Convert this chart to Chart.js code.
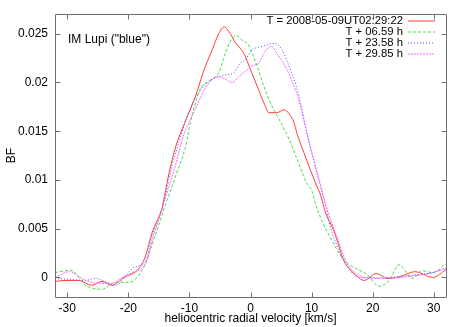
<!DOCTYPE html>
<html>
<head>
<meta charset="utf-8">
<script src="https://cdn.jsdelivr.net/npm/chart.js@4"></script>
<style>
  body { margin: 0; background: #fff; }
  #wrap { width: 467px; height: 327px; }
</style>
</head>
<body>
<div id="wrap"><canvas id="bf" width="467" height="327"></canvas></div>
<script>
// Broadening function of IM Lupi, four epochs
const seriesNames = ['T = 2008-05-09UT02:29:22', 'T + 06.59 h', 'T + 23.58 h', 'T + 29.85 h'];

const redV = [-32, -30.2, -28.1, -26, -24.3, -22.7, -20.7, -18.3, -17.3, -16, -15, -14.5, -13.4, -12.2, -11.2, -10.4, -9, -7.6, -6.3, -5.2, -4.3, -3.5, -2.4, -1.1, 0, 1.1, 2.2, 3, 4.3, 5.5, 6.3, 7.1, 7.6, 9.1, 10.7, 11.5, 12.2, 13.7, 15.3, 16.3, 17.3, 18.6, 20.6, 22.5, 24.5, 27, 29.8, 32];
const redBF = [-0.0004, -0.0003, -0.0003, -0.0008, -0.0004, -0.0008, 0.0, 0.0009, 0.002, 0.0048, 0.0062, 0.0071, 0.0105, 0.0135, 0.0152, 0.0164, 0.0186, 0.0213, 0.0233, 0.025, 0.0257, 0.0252, 0.024, 0.023, 0.0213, 0.0196, 0.0179, 0.0169, 0.0169, 0.0172, 0.0168, 0.0159, 0.0148, 0.0122, 0.0096, 0.0084, 0.0068, 0.0047, 0.0017, 0.0008, 0.0002, -0.0003, 0.0004, -0.0001, 0.0001, 0.0006, 0.0, 0.0008];

const greenV = [-32, -29.4, -27, -24.3, -22, -19.9, -17.5, -16.1, -15, -13.9, -12.2, -10.6, -9.8, -9, -8.2, -6.8, -5.2, -4.1, -3.2, -2.4, -1.1, -0.5, 0.9, 2.2, 3.5, 4.7, 6.3, 7.4, 9.1, 10.1, 10.7, 11.7, 13.4, 15, 17.3, 18.9, 21.1, 22.7, 24.3, 26.5, 28.1, 29.8, 32];
const greenBF = [0.0005, 0.00075, -0.0008, -0.0012, -0.0005, -0.0005, 0.001, 0.0034, 0.0054, 0.0075, 0.0105, 0.0135, 0.016, 0.0179, 0.0194, 0.0201, 0.021, 0.023, 0.0243, 0.0248, 0.0242, 0.024, 0.022, 0.0196, 0.0176, 0.0162, 0.0142, 0.0125, 0.0098, 0.0088, 0.0074, 0.0058, 0.0037, 0.002, 0.0009, 0.0004, -0.0009, -0.0003, 0.0013, -0.0001, 0.0007, 0.0005, 0.0014];

const blueV = [-32, -29.5, -27, -25.5, -23.5, -22, -20.4, -19.2, -18.3, -17.1, -16, -15, -14, -12.8, -11.7, -10.4, -9, -8.4, -7.1, -5.7, -4, -2.7, -1.9, -0.7, 0.2, 1.9, 3.9, 5.2, 6.3, 7.5, 8.5, 9.1, 10.7, 12.4, 12.9, 14.5, 16.1, 17.8, 19.9, 22.2, 24.3, 26, 29.8, 32];
const blueBF = [-0.0001, -0.0002, -0.0003, -0.0001, -0.0005, -0.0008, 0.0002, 0.001, 0.0012, 0.0018, 0.0045, 0.006, 0.0082, 0.0115, 0.0139, 0.0165, 0.0185, 0.019, 0.02, 0.0205, 0.0208, 0.021, 0.0218, 0.0225, 0.0233, 0.0237, 0.024, 0.0233, 0.0217, 0.0196, 0.017, 0.0152, 0.0111, 0.0071, 0.0056, 0.0027, 0.0009, 0.0, 0.0, -0.0001, 0.0001, 0.0002, 0.0005, 0.0009];

const pinkV = [-32, -29.6, -27.3, -24.8, -22.7, -21, -19.4, -17.1, -16, -15, -14, -12.5, -11, -10, -8.8, -7.6, -6.3, -5.2, -4, -3, -1.9, -1.1, 0.3, 1.4, 2.2, 3.4, 4.5, 5.8, 7.5, 7.9, 9.6, 11.2, 12.5, 14, 15.6, 17.8, 20.6, 22.7, 24.3, 27.1, 29.8, 32];
const pinkBF = [0.0, 0.0006, -0.0002, -0.0006, -0.0006, 0.0, 0.0005, 0.0015, 0.004, 0.006, 0.008, 0.011, 0.0145, 0.016, 0.0176, 0.0192, 0.0203, 0.0206, 0.0203, 0.02, 0.0206, 0.021, 0.0217, 0.022, 0.023, 0.0237, 0.0228, 0.0215, 0.019, 0.0182, 0.0139, 0.0101, 0.0071, 0.0044, 0.0017, 0.0002, -0.0001, 0.0, 0.0, 0.0002, 0.0005, 0.001];

const xTicks = [-30, -20, -10, 0, 10, 20, 30];
const yTicks = [0, 0.005, 0.01, 0.015, 0.02, 0.025];

const colors = ['#ff3b3b', '#44dd44', '#5050ff', '#ff66ff'];
const dashes = [[], [3, 2], [1, 2], [2, 1]];

const FONT = '"Liberation Sans", Arial, Helvetica, sans-serif';

function pts(vs, bs) {
  return vs.map((v, i) => ({ x: v, y: bs[i] }));
}

// gnuplot-like box with inward ticks, key and label
const gnuFrame = {
  id: 'gnuFrame',
  afterDraw(chart) {
    const { ctx, chartArea: a, scales: { x, y } } = chart;
    const L = Math.round(a.left) + 0.5, R = Math.round(a.right) + 0.5;
    const T = Math.round(a.top) + 0.5, B = Math.round(a.bottom) + 0.5;
    const tl = 5;
    ctx.save();
    ctx.strokeStyle = '#707070';
    ctx.lineWidth = 1;
    ctx.setLineDash([]);
    ctx.beginPath();
    ctx.rect(L, T, R - L, B - T);
    xTicks.forEach(v => {
      const px = Math.round(x.getPixelForValue(v)) + 0.5;
      ctx.moveTo(px, B); ctx.lineTo(px, B - tl);
      ctx.moveTo(px, T); ctx.lineTo(px, T + tl);
    });
    yTicks.forEach(v => {
      const py = Math.round(y.getPixelForValue(v)) + 0.5;
      ctx.moveTo(L, py); ctx.lineTo(L + tl, py);
      ctx.moveTo(R, py); ctx.lineTo(R - tl, py);
    });
    ctx.stroke();
    ctx.restore();

    // key text
    ctx.save();
    ctx.font = '11.3px ' + FONT;
    ctx.fillStyle = '#000';
    ctx.textBaseline = 'middle';
    ctx.textAlign = 'right';
    seriesNames.forEach((name, i) => ctx.fillText(name, 403, 20.5 + i * 11));
    ctx.textAlign = 'left';
    ctx.font = '12px ' + FONT;
    ctx.fillText('IM Lupi ("blue")', 68, 40);
    ctx.restore();

    // key samples
    seriesNames.forEach((name, i) => {
      const ly = 21 + i * 11;
      ctx.save();
      ctx.lineWidth = 1;
      ctx.strokeStyle = colors[i];
      ctx.setLineDash(dashes[i]);
      ctx.beginPath();
      ctx.moveTo(408, ly);
      ctx.lineTo(435, ly);
      ctx.stroke();
      ctx.restore();
    });
  }
};

const sets = [[redV, redBF], [greenV, greenBF], [blueV, blueBF], [pinkV, pinkBF]];

new Chart(document.getElementById('bf').getContext('2d'), {
  type: 'line',
  data: {
    datasets: sets.map((s, i) => ({
      label: seriesNames[i],
      data: pts(s[0], s[1]),
      borderColor: colors[i],
      borderWidth: 1,
      borderDash: dashes[i],
      pointRadius: 0,
      fill: false,
      cubicInterpolationMode: 'monotone'
    })).reverse()
  },
  options: {
    responsive: false,
    animation: false,
    events: [],
    layout: { padding: { top: 11, right: 21, bottom: 0, left: 0 } },
    plugins: { legend: { display: false }, tooltip: { enabled: false } },
    scales: {
      x: {
        type: 'linear',
        min: -32,
        max: 32,
        afterBuildTicks: s => { s.ticks = xTicks.map(v => ({ value: v })); },
        afterFit: s => { s.height = 30; },
        grid: { display: false, drawTicks: false },
        border: { display: false },
        ticks: { color: '#000', padding: 4, maxRotation: 0, font: { family: FONT, size: 12 } },
        title: {
          display: true,
          text: 'heliocentric radial velocity [km/s]',
          color: '#000',
          padding: { top: 0, bottom: 1.5 },
          font: { family: FONT, size: 12, lineHeight: 1.2 }
        }
      },
      y: {
        type: 'linear',
        min: -0.002,
        max: 0.027,
        afterBuildTicks: s => { s.ticks = yTicks.map(v => ({ value: v })); },
        afterFit: s => { s.width = 55; },
        grid: { display: false, drawTicks: false },
        border: { display: false },
        ticks: {
          color: '#000',
          padding: 7,
          font: { family: FONT, size: 12 },
          callback: v => String(v)
        },
        title: {
          display: true,
          text: 'BF',
          color: '#000',
          padding: { top: 4, bottom: 0 },
          font: { family: FONT, size: 12, lineHeight: 1.2 }
        }
      }
    }
  },
  plugins: [gnuFrame]
});
</script>
</body>
</html>
